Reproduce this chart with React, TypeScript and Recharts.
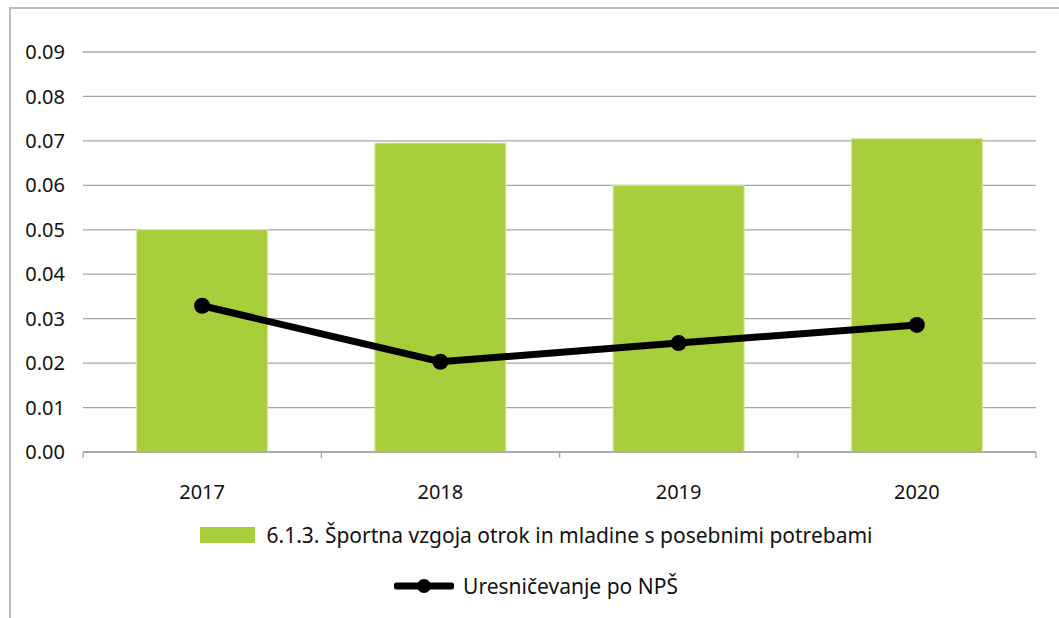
import { ComposedChart, Bar, Line, XAxis, YAxis, CartesianGrid, Legend } from 'recharts';

const years = ['2017', '2018', '2019', '2020'];
const programValues = [0.05, 0.0695, 0.06, 0.0705];
const realisedValues = [0.0329, 0.0203, 0.0245, 0.0286];
const yTicks = [0, 0.01, 0.02, 0.03, 0.04, 0.05, 0.06, 0.07, 0.08, 0.09];

const BAR_NAME = '6.1.3. Športna vzgoja otrok in mladine s posebnimi potrebami';
const LINE_NAME = 'Uresničevanje po NPŠ';

const GREEN = '#a8ce3b';
const GRID = '#a6a6a6';
const FONT = '"Noto Sans", sans-serif';

const data = years.map((year, i) => ({
    year,
    program: programValues[i],
    realised: realisedValues[i],
}));

// category ticks sit on the band edges, labels in the middle
const XTick = (props: any) => {
    const { x, y, payload, index } = props;
    const half = 119;
    return (
        <g>
            <line x1={x - half} x2={x - half} y1={y - 8} y2={y - 2} stroke={GRID} strokeWidth={1.3} />
            {index === years.length - 1 && (
                <line x1={x + half} x2={x + half} y1={y - 8} y2={y - 2} stroke={GRID} strokeWidth={1.3} />
            )}
            <text x={x} y={y + 39} textAnchor="middle" fill="#111" fontSize={20} fontFamily={FONT}>
                {payload.value}
            </text>
        </g>
    );
};

const LegendContent = () => (
    <div style={{ fontFamily: FONT, fontSize: 21, color: '#111', width: 1059 }}>
        <div style={{ display: 'flex', alignItems: 'center', justifyContent: 'center', height: 30, paddingLeft: 13 }}>
            <span style={{ display: 'inline-block', width: 55, height: 16, background: GREEN, marginRight: 12 }} />
            <span>{BAR_NAME}</span>
        </div>
        <div style={{ display: 'flex', alignItems: 'center', justifyContent: 'center', height: 30, marginTop: 21, paddingLeft: 13 }}>
            <svg width={60} height={20} style={{ marginRight: 9 }}>
                <line x1={3} x2={57} y1={10} y2={10} stroke="#000" strokeWidth={7} strokeLinecap="round" />
                <circle cx={30} cy={10} r={7} fill="#000" />
            </svg>
            <span>{LINE_NAME}</span>
        </div>
    </div>
);

export default function App() {
    return (
        <div style={{ position: 'absolute', left: 0, top: 0, width: 1059, height: 618, overflow: 'hidden', background: '#fff' }}>
            <div style={{ position: 'absolute', left: 9, top: 7, width: 1200, height: 800, border: '2px solid #bdbdbd' }} />
            <ComposedChart
                width={1059}
                height={618}
                data={data}
                margin={{ top: 52, right: 23, bottom: 116, left: 0 }}
                barCategoryGap="22.5%"
                style={{ position: 'absolute', left: 0, top: 0 }}
            >
                <CartesianGrid vertical={false} stroke={GRID} strokeWidth={1.3} />
                <XAxis
                    dataKey="year"
                    height={50}
                    axisLine={{ stroke: GRID, strokeWidth: 1.3 }}
                    tickLine={false}
                    tick={<XTick />}
                    interval={0}
                />
                <YAxis
                    width={83}
                    domain={[0, 0.09]}
                    ticks={yTicks}
                    axisLine={false}
                    tickLine={false}
                    tickMargin={12}
                    tickFormatter={(v: number) => v.toFixed(2)}
                    tick={{ fill: '#111', fontSize: 20, fontFamily: FONT }}
                />
                <Bar dataKey="program" name={BAR_NAME} fill={GREEN} stroke="#d6e9a4" strokeWidth={1} isAnimationActive={false} />
                <Line
                    dataKey="realised"
                    name={LINE_NAME}
                    stroke="#000"
                    strokeWidth={7}
                    dot={{ r: 8, fill: '#000', stroke: '#000', strokeWidth: 0 }}
                    activeDot={false}
                    isAnimationActive={false}
                />
                <Legend
                    layout="horizontal"
                    verticalAlign="middle"
                    align="center"
                    content={<LegendContent />}
                    wrapperStyle={{ top: 520, left: 0, width: 1059 }}
                />
            </ComposedChart>
        </div>
    );
}
